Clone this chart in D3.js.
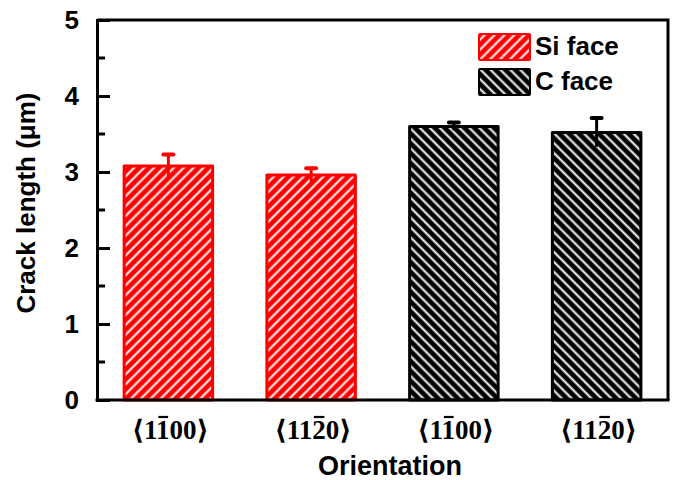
<!DOCTYPE html>
<html>
<head>
<meta charset="utf-8">
<script src="https://cdn.jsdelivr.net/npm/d3@7"></script>
<style>
  html, body { margin: 0; padding: 0; background: #fff; }
  svg { display: block; }
</style>
</head>
<body>
<svg id="chart" width="676" height="480"></svg>
<script>
// Crack length by orientation for the Si and C faces
const categories = ["Si-1-100", "Si-11-20", "C-1-100", "C-11-20"];
const labelTexts = ["⟨1100⟩", "⟨1120⟩", "⟨1100⟩", "⟨1120⟩"];
// index of the digit carrying the bar (negative index) in each label
const barredDigit = [2, 3, 2, 3];
const faces = ["Si", "Si", "C", "C"];
const values = [3.08, 2.96, 3.60, 3.52];
const errors = [0.15, 0.09, 0.05, 0.19];
const legendNames = ["Si face", "C face"];
const yTicks = [0, 1, 2, 3, 4, 5];

const faceColor = { Si: "#ff0000", C: "#000000" };
const sans = "Liberation Sans, Arial, sans-serif";

const svg = d3.select("#chart");
const W = 676, H = 480;
const x0 = 97, x1 = 668, y0 = 400, y1 = 20;

const x = d3.scaleBand().domain(categories).range([x0, x1]).paddingInner(0.38).paddingOuter(0.19);
const y = d3.scaleLinear().domain([0, 5]).range([y0, y1]);

// hatch patterns
const defs = svg.append("defs");
function hatch(id, bg, dir) {
  const p = defs.append("pattern").attr("id", id).attr("patternUnits", "userSpaceOnUse")
    .attr("width", 7).attr("height", 7)
    .attr("patternTransform", `rotate(${dir})`);
  p.append("rect").attr("width", 7).attr("height", 7).attr("fill", bg);
  p.append("rect").attr("x", 2.5).attr("width", 2).attr("height", 7).attr("fill", "#fff");
}
hatch("hatch-Si", faceColor.Si, 45);
hatch("hatch-C", faceColor.C, -45);

// bars
svg.append("g").selectAll("rect").data(categories).join("rect")
  .attr("x", d => x(d))
  .attr("y", (d, i) => y(values[i]))
  .attr("width", x.bandwidth())
  .attr("height", (d, i) => y(0) - y(values[i]))
  .attr("fill", (d, i) => `url(#hatch-${faces[i]})`)
  .attr("stroke", (d, i) => faceColor[faces[i]])
  .attr("stroke-width", 3)
  .attr("stroke-linejoin", "round");

// error bars
const eg = svg.append("g");
categories.forEach((c, i) => {
  const cx = x(c) + x.bandwidth() / 2;
  const col = faceColor[faces[i]];
  eg.append("line").attr("x1", cx).attr("x2", cx)
    .attr("y1", y(values[i] - errors[i])).attr("y2", y(values[i] + errors[i]))
    .attr("stroke", col).attr("stroke-width", 3);
  eg.append("line").attr("x1", cx - 5).attr("x2", cx + 5)
    .attr("y1", y(values[i] + errors[i])).attr("y2", y(values[i] + errors[i]))
    .attr("stroke", col).attr("stroke-width", 4).attr("stroke-linecap", "round");
});

// frame (top + right)
svg.append("path")
  .attr("d", `M${x0},${y1}H${x1}V${y0}`)
  .attr("fill", "none").attr("stroke", "#000").attr("stroke-width", 3);

// y axis
const yAxis = svg.append("g").attr("transform", `translate(${x0},0)`)
  .call(d3.axisLeft(y).tickValues(yTicks).tickSize(-13).tickPadding(18).tickFormat(d3.format("d")));
yAxis.select(".domain").attr("stroke-width", 3);
yAxis.selectAll(".tick line").attr("stroke-width", 3);
yAxis.selectAll(".tick text")
  .attr("font-family", sans)
  .attr("font-weight", "bold").attr("font-size", 26).attr("fill", "#000");
// minor ticks
svg.append("g").selectAll("line").data(d3.range(0.5, 5, 1)).join("line")
  .attr("x1", x0).attr("x2", x0 + 8)
  .attr("y1", d => y(d)).attr("y2", d => y(d))
  .attr("stroke", "#000").attr("stroke-width", 3);

// x axis line
svg.append("line").attr("x1", x0 - 1.5).attr("x2", x1 + 1.5).attr("y1", y0).attr("y2", y0)
  .attr("stroke", "#000").attr("stroke-width", 3);

// x tick labels with overbarred digit
const xl = svg.append("g");
categories.forEach((c, i) => {
  const cx = x(c) + x.bandwidth() / 2 + 2;
  const t = xl.append("text")
    .attr("x", cx).attr("y", 439)
    .attr("text-anchor", "middle")
    .attr("font-family", "Liberation Serif, DejaVu Serif, serif")
    .attr("font-weight", "bold").attr("font-size", 27)
    .attr("fill", "#000")
    .text(labelTexts[i]);
  const ext = t.node().getExtentOfChar(barredDigit[i]);
  xl.append("line")
    .attr("x1", ext.x + 1.5).attr("x2", ext.x + ext.width - 1.5)
    .attr("y1", 417).attr("y2", 417)
    .attr("stroke", "#000").attr("stroke-width", 2.2);
});

// axis titles
svg.append("text")
  .attr("x", 390).attr("y", 475)
  .attr("text-anchor", "middle")
  .attr("font-family", sans)
  .attr("font-weight", "bold").attr("font-size", 27)
  .text("Orientation");

svg.append("text")
  .attr("transform", "translate(35,203) rotate(-90)")
  .attr("text-anchor", "middle")
  .attr("font-family", sans)
  .attr("font-weight", "bold").attr("font-size", 26)
  .text("Crack length (μm)");

// legend
const lg = svg.append("g");
["Si", "C"].forEach((f, i) => {
  const ly = 34 + i * 35;
  lg.append("rect").attr("x", 479).attr("y", ly).attr("width", 51).attr("height", 26)
    .attr("rx", 1)
    .attr("fill", `url(#hatch-${f})`).attr("stroke", faceColor[f]).attr("stroke-width", 2);
  lg.append("text").attr("x", 535).attr("y", ly + 21)
    .attr("font-family", sans)
    .attr("font-weight", "bold").attr("font-size", 26)
    .text(legendNames[i]);
});
</script>
</body>
</html>
